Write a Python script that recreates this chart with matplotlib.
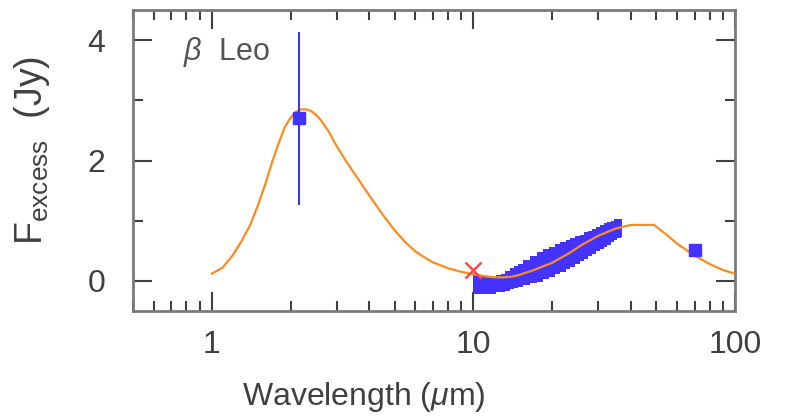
import matplotlib
matplotlib.use('Agg')
import matplotlib.pyplot as plt
from matplotlib.ticker import LogLocator, FixedLocator, NullFormatter, FixedFormatter

plt.rcParams['font.family'] = ['Liberation Sans', 'DejaVu Sans']
plt.rcParams['mathtext.fontset'] = 'custom'
plt.rcParams['mathtext.rm'] = 'Liberation Sans'
plt.rcParams['mathtext.it'] = 'Liberation Sans:italic'

# model (orange curve)
model_wave = [1.0, 1.1, 1.2, 1.3, 1.4, 1.5, 1.6, 1.7, 1.8, 1.9, 2.0, 2.1, 2.2, 2.3, 2.4,
              2.5, 2.6, 2.8, 3.0, 3.25, 3.5, 3.75, 4.0, 4.5, 5.0, 5.5, 6.0, 6.5, 7.0, 8.0, 9.0, 10, 11,
              12, 13, 14, 15, 17, 20, 23, 26, 30, 35, 40, 49, 55, 60, 70, 80, 90, 100]
model_flux = [0.12, 0.22, 0.42, 0.66, 0.92, 1.25, 1.6, 1.97, 2.28, 2.55, 2.71, 2.81, 2.85, 2.85, 2.82,
              2.76, 2.68, 2.48, 2.24, 2.0, 1.79, 1.6, 1.42, 1.1, 0.84, 0.64, 0.49, 0.39, 0.31, 0.21, 0.15, 0.11, 0.08,
              0.06, 0.06, 0.07, 0.1, 0.18, 0.3, 0.45, 0.6, 0.75, 0.87, 0.93, 0.93, 0.76, 0.62, 0.42, 0.28, 0.18, 0.12]

# IRS spectrum band
spec_wave = [10, 10.5, 11, 11.5, 12, 12.5, 13, 13.5, 14, 14.5, 15, 16, 17, 18, 19, 20, 21, 22, 23, 24, 25,
             26, 27, 28, 29, 30, 31, 32, 33, 34, 35, 36, 37]
spec_flux = [-0.05, -0.06, -0.07, -0.07, -0.07, -0.05, -0.03, 0.0, 0.04, 0.06, 0.09, 0.14, 0.19, 0.23, 0.28,
             0.32, 0.36, 0.4, 0.44, 0.47, 0.51, 0.55, 0.59, 0.62, 0.66, 0.7, 0.73, 0.76, 0.79, 0.82, 0.85, 0.87, 0.88]
spec_err = [0.17, 0.16, 0.15, 0.15, 0.14, 0.14, 0.15, 0.16, 0.17, 0.18, 0.19, 0.21, 0.23, 0.25, 0.25,
            0.25, 0.25, 0.25, 0.24, 0.24, 0.23, 0.22, 0.22, 0.21, 0.21, 0.2, 0.2, 0.2, 0.19, 0.18, 0.17, 0.15, 0.15]

# photometry
phot_wave = [2.15, 70.0]
phot_flux = [2.7, 0.52]
phot_err = [1.44, 0.0]

# red cross at 10 micron
cross_wave = [10.0]
cross_flux = [0.18]

blue = '#4433ff'
orange = '#ff8a1e'
grey = '#7a7a7a'
text_col = '#404040'

fig = plt.figure(figsize=(7.89, 4.17), dpi=100)
ax = fig.add_axes([0.1686, 0.2542, 0.763, 0.7218])

lo = [f - e for f, e in zip(spec_flux, spec_err)]
hi = [f + e for f, e in zip(spec_flux, spec_err)]
ax.fill_between(spec_wave, lo, hi, step='mid', color=blue, lw=0, zorder=2)

ax.plot(model_wave, model_flux, color=orange, lw=1.6, zorder=3)

ax.errorbar(phot_wave, phot_flux, yerr=phot_err, fmt='s', color=blue, ms=8,
            elinewidth=1.5, capsize=0, zorder=4)
ax.plot(cross_wave, cross_flux, 'x', color='#ff4a4a', ms=12, mew=1.8, zorder=5)

ax.set_xscale('log')
ax.set_xlim(0.5, 100)
ax.set_ylim(-0.5, 4.5)

ax.xaxis.set_major_locator(FixedLocator([1, 10, 100]))
ax.xaxis.set_major_formatter(FixedFormatter(['1', '10', '100']))
ax.xaxis.set_minor_locator(LogLocator(base=10, subs=range(2, 10)))
ax.xaxis.set_minor_formatter(NullFormatter())
ax.yaxis.set_major_locator(FixedLocator([0, 2, 4]))
ax.yaxis.set_minor_locator(FixedLocator([1, 3]))

ax.tick_params(which='both', direction='in', top=True, right=True,
               color=text_col, width=1.5, labelsize=23, labelcolor=text_col)
ax.tick_params(which='major', length=14)
ax.tick_params(which='minor', length=7)
ax.tick_params(axis='x', pad=14)
ax.tick_params(axis='y', pad=20)

for s in ax.spines.values():
    s.set_color(grey)
    s.set_linewidth(2)

ax.set_xlabel(r'Wavelength ($\mu$m)', fontsize=23, color=text_col)
ax.xaxis.set_label_coords(0.384, -0.23)
ax.set_ylabel(r'F$_{\rm excess}$  (Jy)', fontsize=27, color=text_col)
ax.yaxis.set_label_coords(-0.135, 0.535)

ax.text(0.083, 0.86, r'$\beta$  Leo', transform=ax.transAxes, fontsize=22,
        color='#555555', ha='left', va='center')

fig.savefig('out.png', dpi=100)
